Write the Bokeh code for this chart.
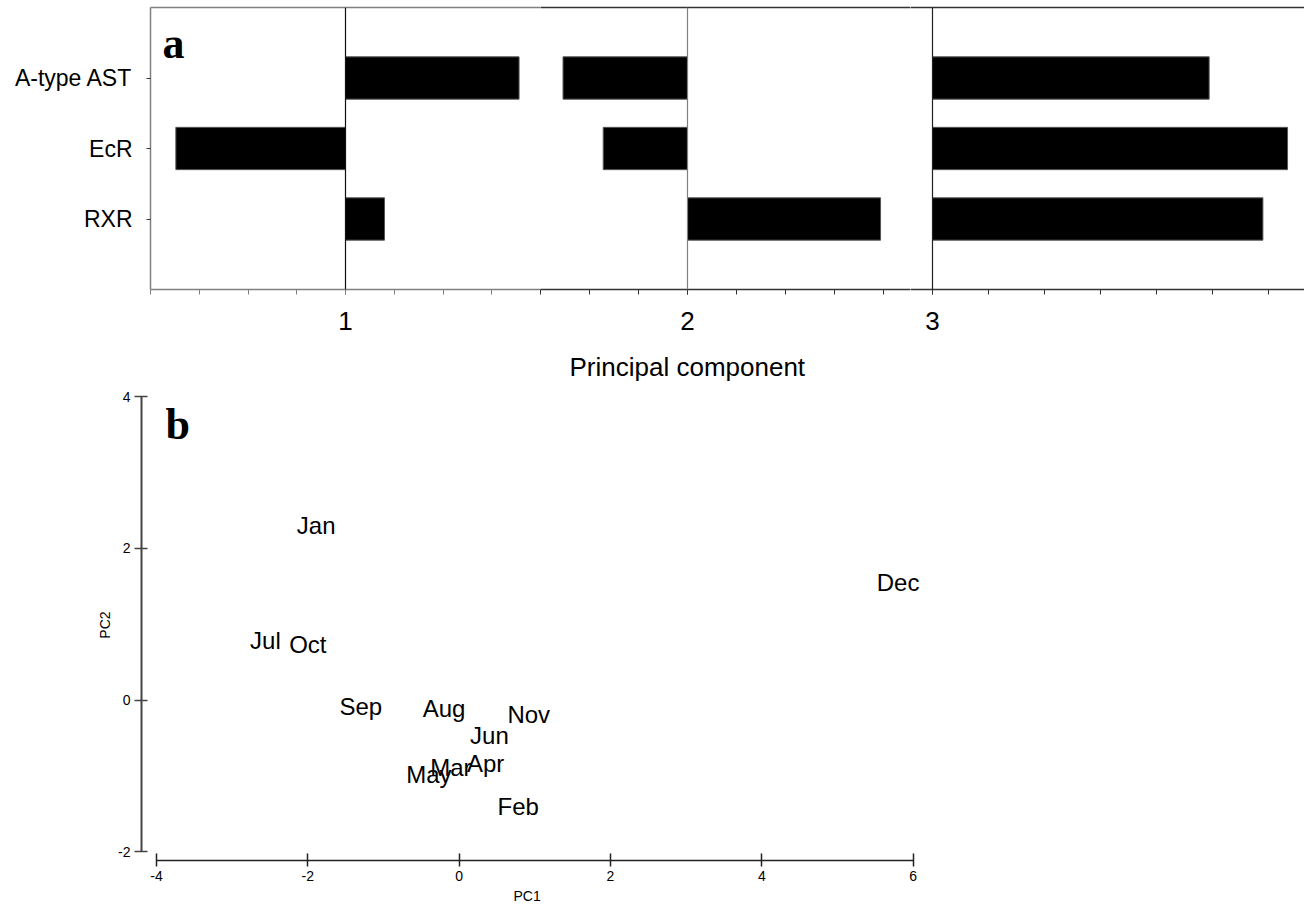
import math
from bokeh.plotting import figure
from bokeh.models import Range1d, FixedTicker, LinearAxis, Span, Label, Title
from bokeh.layouts import column, row
from bokeh.embed import file_html
from bokeh.resources import INLINE
from bokeh.core.properties import value

# ---------------- data ----------------
genes = ["A-type AST", "EcR", "RXR"]
gene_pos = [3, 2, 1]
pc1_loadings = [0.89, -0.87, 0.20]
pc2_loadings = [-0.635, -0.43, 0.985]
pc3_loadings = [1.235, 1.585, 1.475]
component_labels = ["1", "2", "3"]
loading_axis_title = "Principal component"

months = ["Jan", "Feb", "Mar", "Apr", "May", "Jun", "Jul", "Aug", "Sep", "Oct", "Nov", "Dec"]
pc1_scores = [-1.89, 0.78, -0.11, 0.35, -0.40, 0.40, -2.56, -0.20, -1.30, -2.00, 0.92, 5.80]
pc2_scores = [2.30, -1.40, -0.89, -0.84, -0.98, -0.46, 0.79, -0.11, -0.08, 0.73, -0.19, 1.55]

x_ticks_b = [-4, -2, 0, 2, 4, 6]
y_ticks_b = [-2, 0, 2, 4]

SANS = "Liberation Sans"
SERIF = "Liberation Serif"
PANEL_A_H = 342


def blank_axis(color, width=1.5):
    ax = LinearAxis(ticker=FixedTicker(ticks=[]))
    ax.major_tick_out = 0
    ax.major_tick_in = 0
    ax.minor_tick_out = 0
    ax.minor_tick_in = 0
    ax.major_label_text_font_size = "0px"
    ax.major_label_standoff = 0
    ax.axis_line_color = color
    ax.axis_line_width = width
    return ax


def section(loadings, x0, x1, fw, comp_label, first, frame_color, zero_color):
    p = figure(frame_width=fw, frame_height=282,
               x_range=Range1d(x0, x1), y_range=Range1d(0, 4),
               output_backend="svg", toolbar_location=None,
               x_axis_location=None, y_axis_location=None,
               min_border_left=150 if first else 0, min_border_right=0,
               min_border_top=7, min_border_bottom=PANEL_A_H - 7 - 282)
    p.outline_line_color = None
    p.grid.visible = False
    p.xgrid.visible = False
    p.ygrid.visible = False

    k0 = math.ceil(x0 / 0.25 - 1e-9)
    k1 = math.floor(x1 / 0.25 + 1e-9)
    minor = [0.25 * k for k in range(k0, k1 + 1)]
    bx = LinearAxis(ticker=FixedTicker(ticks=[0] if x0 < 0 < x1 else [], minor_ticks=minor))
    bx.major_label_overrides = {0: comp_label}
    bx.major_tick_out = 5
    bx.major_tick_in = 0
    bx.minor_tick_out = 5
    bx.minor_tick_in = 0
    bx.axis_line_color = frame_color
    bx.axis_line_width = 1.5
    bx.major_tick_line_color = frame_color
    bx.minor_tick_line_color = frame_color
    bx.major_label_text_font = SANS
    bx.major_label_text_font_size = "26px"
    bx.major_label_text_color = "black"
    bx.major_label_standoff = 17
    p.add_layout(bx, "below")

    p.add_layout(blank_axis(frame_color), "above")

    if first:
        ly = LinearAxis(ticker=FixedTicker(ticks=gene_pos))
        ly.major_label_overrides = {gp: g for gp, g in zip(gene_pos, genes)}
        ly.major_tick_out = 4
        ly.major_tick_in = 0
        ly.minor_tick_out = 0
        ly.minor_tick_in = 0
        ly.axis_line_color = "#808080"
        ly.axis_line_width = 1.5
        ly.major_tick_line_color = "#333333"
        ly.major_label_text_font = SANS
        ly.major_label_text_font_size = "23px"
        ly.major_label_text_color = "black"
        ly.major_label_standoff = 14
        p.add_layout(ly, "left")

    p.add_layout(Span(location=0, dimension="height", line_color=zero_color, line_width=1.2))

    p.hbar(y=gene_pos, left=0, right=loadings, height=0.6,
           fill_color="black", line_color="#555555", line_width=1)
    return p


# section frames: 150-540, 540-910, 910-1304 ; zero lines at 345, 687, 932
f1 = section(pc1_loadings, -1.0, 1.0, 390, component_labels[0], True, "#808080", "#111111")
f2 = section(pc2_loadings, -0.75, -0.75 + 370 / 196, 370, component_labels[1], False, "#333333", "#808080")
f3 = section(pc3_loadings, -22 / 224, -22 / 224 + 394 / 224, 394, component_labels[2], False, "#333333", "#222222")

f1.add_layout(Label(x=-0.938, y=3.49, text="a", text_font=SERIF, text_font_style="bold",
                    text_font_size="44px", text_align="left", text_baseline="alphabetic",
                    text_color="black"))

# ---------------- panel b ----------------
pb = figure(frame_width=860, frame_height=471,
            x_range=Range1d(-4.198, -4.198 + 860 / 75.67), y_range=Range1d(-2.113, 4.095),
            output_backend="svg", toolbar_location=None,
            min_border_left=141, min_border_top=389 - PANEL_A_H, min_border_bottom=46,
            min_border_right=0)
pb.outline_line_color = None
pb.grid.visible = False

# axis title of panel a, drawn in the gap between the panels
pb.add_layout(Title(text=loading_axis_title, align="left", offset=428, standoff=15,
                    text_font=SANS, text_font_size="26px", text_font_style="normal",
                    text_color="black"), "above")

pb.xaxis.ticker = FixedTicker(ticks=x_ticks_b)
pb.yaxis.ticker = FixedTicker(ticks=y_ticks_b)
pb.xaxis.major_label_overrides = {t: str(t) for t in x_ticks_b}
pb.yaxis.major_label_overrides = {t: str(t) for t in y_ticks_b}
pb.xaxis.bounds = (-4, 6)
pb.yaxis.bounds = (-2, 4)
pb.yaxis.axis_label = "PC2"
for ax, tin, tout, col, lw in ((pb.xaxis, 7, 6, "#222222", 1.5), (pb.yaxis, 6, 7, "#444444", 2)):
    ax.major_tick_in = tin
    ax.major_tick_out = tout
    ax.minor_tick_in = 0
    ax.minor_tick_out = 0
    ax.axis_line_color = col
    ax.axis_line_width = lw
    ax.major_tick_line_color = col
    ax.major_tick_line_width = 1.5
    ax.major_label_text_font = SANS
    ax.major_label_text_font_size = "14px"
    ax.major_label_text_color = "black"
    ax.major_label_standoff = 4
    ax.axis_label_text_font = SANS
    ax.axis_label_text_font_size = "14px"
    ax.axis_label_text_font_style = "normal"
    ax.axis_label_text_color = "black"
    ax.axis_label_standoff = 2

pb.add_layout(Title(text="PC1", align="left", offset=372, standoff=4,
                    text_font=SANS, text_font_size="14px", text_font_style="normal",
                    text_color="black"), "below")

pb.text(x=pc1_scores, y=pc2_scores, text=months, text_align="center", text_baseline="middle",
        text_font=value(SANS), text_font_size="24px", text_color="black")

pb.add_layout(Label(x=-3.881, y=3.64, text="b", text_font=SERIF, text_font_style="bold",
                    text_font_size="44px", text_align="left", text_baseline="alphabetic",
                    text_color="black"))

layout = column(row(f1, f2, f3, spacing=0), pb, spacing=0)
open("out.html", "w").write(file_html(layout, INLINE))
